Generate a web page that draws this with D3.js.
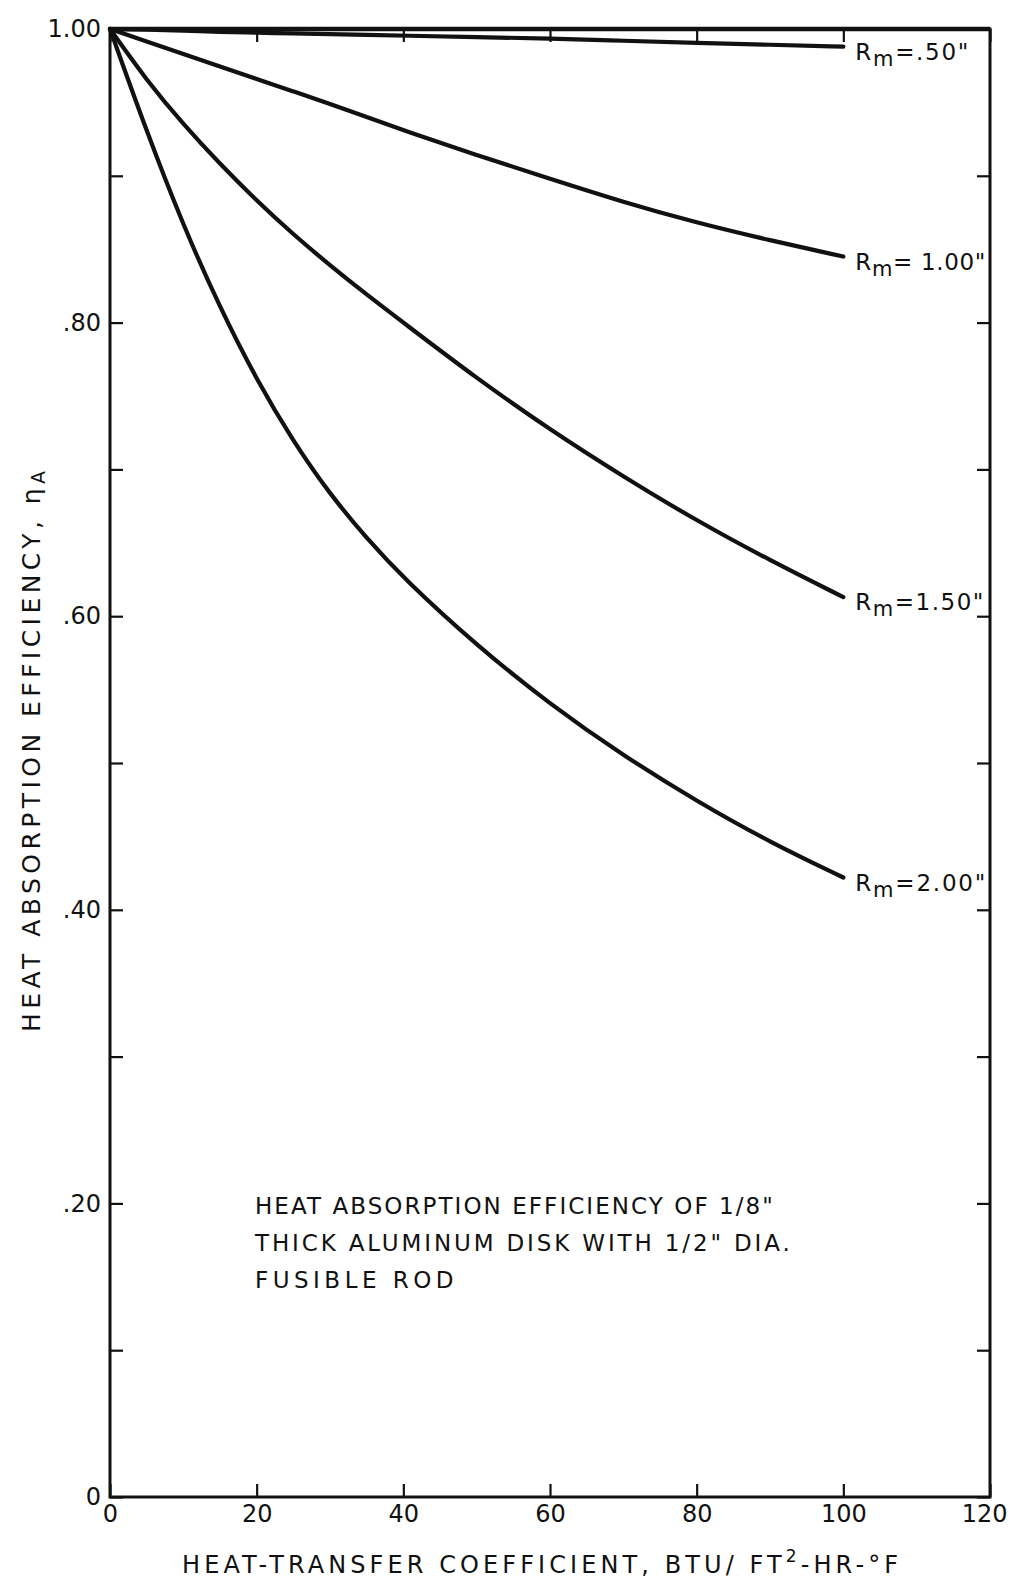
<!DOCTYPE html>
<html>
<head>
<meta charset="utf-8">
<script src="https://cdn.jsdelivr.net/npm/d3@7"></script>
<style>
  html, body { margin: 0; padding: 0; background: #fff; }
  svg { display: block; }
  text { font-family: "DejaVu Sans", "Liberation Sans", sans-serif; fill: #111; }
</style>
</head>
<body>
<svg id="chart" width="1010" height="1581"></svg>
<script>
// ---- data ----
const hValues = [0, 5, 10, 15, 20, 25, 30, 35, 40, 50, 60, 70, 80, 90, 100];
const effRm050 = [1.000, 0.9995, 0.999, 0.998, 0.9975, 0.997, 0.9965, 0.996, 0.9955, 0.9945, 0.9935, 0.992, 0.9905, 0.9893, 0.988];
const effRm100 = [1.000, 0.9915, 0.983, 0.9745, 0.966, 0.9575, 0.949, 0.940, 0.931, 0.914, 0.898, 0.882, 0.868, 0.856, 0.845];
const effRm150 = [1.000, 0.965, 0.935, 0.908, 0.883, 0.860, 0.839, 0.819, 0.800, 0.762, 0.727, 0.695, 0.665, 0.638, 0.613];
const effRm200 = [1.000, 0.930, 0.866, 0.810, 0.761, 0.719, 0.683, 0.653, 0.626, 0.580, 0.540, 0.505, 0.474, 0.446, 0.422];
const seriesLabels = ['=.50"', '= 1.00"', '=1.50"', '=2.00"'];
const xTickValues = [0, 20, 40, 60, 80, 100, 120];
const xTickLabels = ["0", "20", "40", "60", "80", "100", "120"];
const yTickValues = [0, 0.1, 0.2, 0.3, 0.4, 0.5, 0.6, 0.7, 0.8, 0.9, 1.0];
const yTickLabels = ["0", "", ".20", "", ".40", "", ".60", "", ".80", "", "1.00"];
const xAxisTitle = "HEAT-TRANSFER COEFFICIENT,  BTU/ FT";
const yAxisTitle = "HEAT  ABSORPTION  EFFICIENCY, ";
const noteLines = ['HEAT  ABSORPTION  EFFICIENCY  OF  1/8"', 'THICK  ALUMINUM DISK  WITH  1/2"  DIA.', 'FUSIBLE  ROD'];

// ---- layout ----
const svg = d3.select("#chart");
const x = d3.scaleLinear().domain([0, 120]).range([110, 990]);
const y = d3.scaleLinear().domain([0, 1]).range([1497, 29]);
const ink = "#111";

// stretch a text element to a given width using letter-spacing
function fitWidth(sel, target) {
  const node = sel.node();
  const natural = node.getComputedTextLength();
  const n = node.textContent.length;
  sel.attr("letter-spacing", ((target - natural) / Math.max(1, n - 1)).toFixed(2));
}

// curves
const series = [effRm050, effRm100, effRm150, effRm200];
const line = d3.line()
  .x((d, i) => x(hValues[i]))
  .y(d => y(d))
  .curve(d3.curveBasis);

svg.append("g").selectAll("path").data(series).join("path")
  .attr("d", d => line(d))
  .attr("fill", "none")
  .attr("stroke", ink)
  .attr("stroke-width", 4.2)
  .attr("stroke-linecap", "round")
  .attr("stroke-linejoin", "round");

// axes (inward ticks)
const tickLen = 13;
const gLeft = svg.append("g").attr("transform", `translate(${x(0)},0)`)
  .call(d3.axisLeft(y).tickValues(yTickValues).tickSizeInner(-tickLen).tickSizeOuter(0).tickPadding(9)
    .tickFormat((d, i) => yTickLabels[i]));
const gRight = svg.append("g").attr("transform", `translate(${x(120)},0)`)
  .call(d3.axisRight(y).tickValues(yTickValues).tickSizeInner(-tickLen).tickSizeOuter(0).tickFormat(""));
const gBottom = svg.append("g").attr("transform", `translate(0,${y(0)})`)
  .call(d3.axisBottom(x).tickValues(xTickValues).tickSizeInner(-tickLen).tickSizeOuter(0).tickPadding(8)
    .tickFormat((d, i) => xTickLabels[i]));
const gTop = svg.append("g").attr("transform", `translate(0,${y(1)})`)
  .call(d3.axisTop(x).tickValues(xTickValues).tickSizeInner(-tickLen).tickSizeOuter(0).tickFormat(""));

[gLeft, gRight, gBottom, gTop].forEach(g => {
  g.select(".domain").remove();
  g.selectAll(".tick line").attr("stroke", ink).attr("stroke-width", 2.2);
  g.selectAll(".tick text").attr("fill", ink).attr("font-size", 24)
    .attr("font-family", '"DejaVu Sans", sans-serif');
});
// keep the last x label inside the page
gBottom.selectAll(".tick text").filter(d => d === 120)
  .attr("text-anchor", "end").attr("x", 17);

// frame
svg.append("rect")
  .attr("x", x(0)).attr("y", y(1))
  .attr("width", x(120) - x(0)).attr("height", y(0) - y(1))
  .attr("fill", "none").attr("stroke", ink).attr("stroke-width", 3);
svg.append("line")
  .attr("x1", x(0)).attr("x2", x(120)).attr("y1", y(1)).attr("y2", y(1))
  .attr("stroke", ink).attr("stroke-width", 4.5);

// series labels
const lastIdx = hValues.length - 1;
const labelWidths = [113, 130, 128, 130];
series.forEach((s, k) => {
  const t = svg.append("text")
    .attr("x", x(hValues[lastIdx]) + 12)
    .attr("y", y(s[lastIdx]) + 13)
    .attr("font-size", 23);
  t.append("tspan").text("R");
  t.append("tspan").attr("dy", 6).attr("font-size", 21).text("m");
  t.append("tspan").attr("dy", -6).text(seriesLabels[k]);
  fitWidth(t, labelWidths[k]);
});

// x axis title
const xt = svg.append("text")
  .attr("x", 182).attr("y", 1573)
  .attr("font-size", 24);
xt.append("tspan").text(xAxisTitle);
xt.append("tspan").attr("dy", -11).attr("font-size", 17).text("2");
xt.append("tspan").attr("dy", 11).text("-HR-°F");
fitWidth(xt, 720);

// y axis title
const yt = svg.append("text")
  .attr("transform", `translate(40,1032) rotate(-90)`)
  .attr("font-size", 25);
yt.append("tspan").text(yAxisTitle);
yt.append("tspan").text("η");
yt.append("tspan").attr("dy", 5).attr("font-size", 19).text("A");
fitWidth(yt, 570);

// note
const noteWidths = [526, 546, 203];
svg.append("g").selectAll("text").data(noteLines).join("text")
  .attr("x", 255)
  .attr("y", (d, i) => 1214 + i * 37)
  .attr("font-size", 23)
  .text(d => d)
  .each(function(d, i) { fitWidth(d3.select(this), noteWidths[i]); });
</script>
</body>
</html>
